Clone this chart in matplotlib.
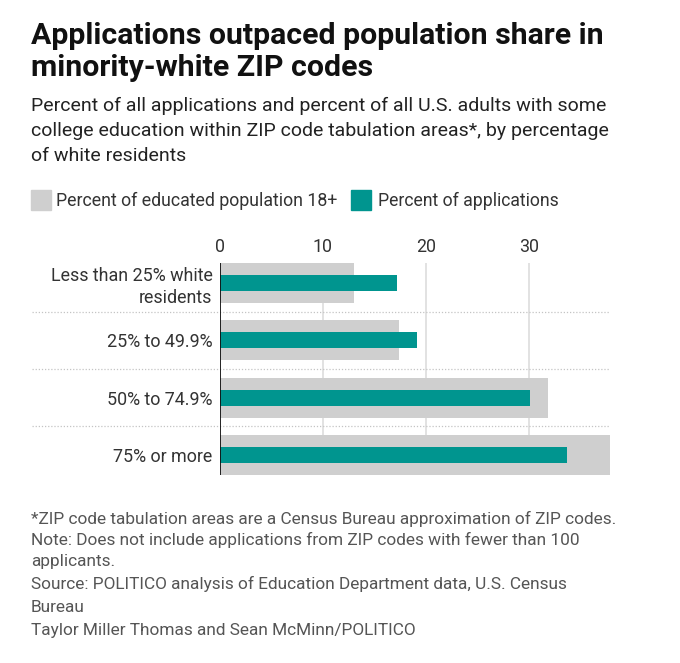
import matplotlib
matplotlib.use("Agg")
import matplotlib.pyplot as plt
from matplotlib.patches import Rectangle
import matplotlib.transforms as mtransforms

categories = ["Less than 25% white\nresidents", "25% to 49.9%", "50% to 74.9%", "75% or more"]
population_share = [13.0, 17.4, 31.8, 37.8]
application_share = [17.2, 19.1, 30.1, 33.6]
xticks = [0, 10, 20, 30]
legend_labels = ["Percent of educated population 18+", "Percent of applications"]

GRAY = "#cfcfcf"
TEAL = "#00958f"
TXT = "#222222"
FONT = "Roboto"

W, H = 680, 663
fig = plt.figure(figsize=(W / 100, H / 100), dpi=100)
fig.patch.set_facecolor("white")

def fx(px):
    return px / W

def fy(py):
    return 1 - py / H

# Axes placement
left, right, top, bottom = 219.5, 610, 263, 475
ax = fig.add_axes([fx(left), fy(bottom), fx(right - left), (bottom - top) / H])
n = len(categories)
ypos = list(range(n))
ax.barh(ypos, population_share, height=0.7, color=GRAY, zorder=2)
ax.barh(ypos, application_share, height=0.28, color=TEAL, zorder=3)
ax.set_xlim(0, 37.8)
ax.set_ylim(n - 1 + 0.35, -0.35)
for s in ax.spines.values():
    s.set_visible(False)
ax.axvline(0, color="#111111", lw=1.3, zorder=4)
for t in xticks[1:]:
    ax.axvline(t, color="#dddddd", lw=1.2, zorder=1)
ax.xaxis.tick_top()
ax.set_xticks(xticks)
ax.set_xticklabels([str(t) for t in xticks], fontfamily=FONT, fontsize=12.8, color="#333333")
ax.tick_params(axis="x", length=0, pad=5)
ax.set_yticks(ypos)
ax.set_yticklabels(categories, fontfamily=FONT, fontsize=12.9, color="#333333", linespacing=1.25)
for lbl in ax.get_yticklabels():
    lbl.set_horizontalalignment("right")
ax.tick_params(axis="y", length=0, pad=5)

# dotted separators spanning label area
trans = mtransforms.blended_transform_factory(fig.transFigure, ax.transData)
for yy in [0.5, 1.5, 2.5]:
    ax.plot([fx(32), fx(610)], [yy, yy], transform=trans, color="#c4c4c4",
            lw=0.9, ls=(0, (1, 1.5)), clip_on=False, zorder=1)

# Title
fig.text(fx(31), fy(44), "Applications outpaced population share in", fontfamily=FONT,
         fontweight="bold", fontsize=21.8, color="#111111", va="baseline")
fig.text(fx(31), fy(76), "minority-white ZIP codes", fontfamily=FONT,
         fontweight="bold", fontsize=21.8, color="#111111", va="baseline")

# Subtitle
sub = ["Percent of all applications and percent of all U.S. adults with some",
       "college education within ZIP code tabulation areas*, by percentage",
       "of white residents"]
for i, s in enumerate(sub):
    fig.text(fx(31), fy(111 + 25 * i), s, fontfamily=FONT, fontsize=14,
             color=TXT, va="baseline")

# Legend
fig.patches.append(Rectangle((fx(31), fy(210)), fx(20), 20 / H, transform=fig.transFigure,
                             color=GRAY, figure=fig))
fig.text(fx(56.5), fy(206), legend_labels[0], fontfamily=FONT, fontsize=12.8,
         color="#333333", va="baseline")
fig.patches.append(Rectangle((fx(351), fy(210)), fx(20), 20 / H, transform=fig.transFigure,
                             color=TEAL, figure=fig))
fig.text(fx(377.5), fy(206), legend_labels[1], fontfamily=FONT, fontsize=12.7,
         color="#333333", va="baseline")

# Footer
foot = [("*ZIP code tabulation areas are a Census Bureau approximation of ZIP codes.", 524),
        ("Note: Does not include applications from ZIP codes with fewer than 100", 545),
        ("applicants.", 566),
        ("Source: POLITICO analysis of Education Department data, U.S. Census", 589),
        ("Bureau", 612),
        ("Taylor Miller Thomas and Sean McMinn/POLITICO", 635)]
for s, yb in foot:
    fig.text(fx(31), fy(yb), s, fontfamily=FONT, fontsize=12.4, color="#555555", va="baseline")

fig.savefig("out.png", dpi=100, facecolor="white")
